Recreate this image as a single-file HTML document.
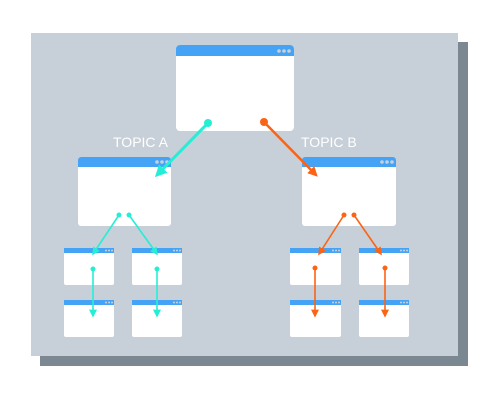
<!DOCTYPE html>
<html><head><style>html,body{margin:0;padding:0;background:#fff;}svg{display:block}</style></head><body>
<svg width="500" height="400" viewBox="0 0 500 400" xmlns="http://www.w3.org/2000/svg">
<defs>
<marker id="ac" markerWidth="4" markerHeight="4" refX="3" refY="2" orient="auto" markerUnits="strokeWidth"><path d="M0,0 L4,2 L0,4 Z" fill="#25eed6"/></marker>
<marker id="ao" markerWidth="4" markerHeight="4" refX="3" refY="2" orient="auto" markerUnits="strokeWidth"><path d="M0,0 L4,2 L0,4 Z" fill="#fb6414"/></marker>
<marker id="acs" markerWidth="5" markerHeight="5" refX="4" refY="2.5" orient="auto" markerUnits="strokeWidth"><path d="M0,0 L5,2.5 L0,5 Z" fill="#25eed6"/></marker>
<marker id="aos" markerWidth="5" markerHeight="5" refX="4" refY="2.5" orient="auto" markerUnits="strokeWidth"><path d="M0,0 L5,2.5 L0,5 Z" fill="#fb6414"/></marker>
<g id="dots3"><circle cx="0" cy="0" r="1.8" fill="#c8d0da"/><circle cx="5" cy="0" r="1.8" fill="#c8d0da"/><circle cx="10" cy="0" r="1.8" fill="#c8d0da"/></g>
<g id="sd"><circle cx="0" cy="0" r="1" fill="#c8d0da"/><circle cx="3" cy="0" r="1" fill="#c8d0da"/><circle cx="6" cy="0" r="1" fill="#c8d0da"/></g>
</defs>
<rect x="40" y="42" width="428" height="324" fill="#7b8791"/>
<rect x="31" y="33" width="427" height="323" fill="#c7cfd8"/>
<rect x="176" y="45" width="118" height="86" rx="4" fill="#fff"/>
<path d="M176,56 V49 a4,4 0 0 1 4,-4 H290 a4,4 0 0 1 4,4 V56 Z" fill="#45a3f5"/>
<use href="#dots3" x="279" y="51"/>
<rect x="78" y="157" width="93" height="69" rx="3" fill="#fff"/>
<path d="M78,167 V160 a3,3 0 0 1 3,-3 H168 a3,3 0 0 1 3,3 V167 Z" fill="#45a3f5"/>
<use href="#dots3" x="157" y="162"/>
<rect x="302" y="157" width="94" height="69" rx="3" fill="#fff"/>
<path d="M302,167 V160 a3,3 0 0 1 3,-3 H393 a3,3 0 0 1 3,3 V167 Z" fill="#45a3f5"/>
<use href="#dots3" x="382" y="162"/>
<g fill="#fff">
<rect x="64" y="248" width="50" height="37" rx="2"/><rect x="132" y="248" width="50" height="37" rx="2"/>
<rect x="64" y="300" width="50" height="37" rx="2"/><rect x="132" y="300" width="50" height="37" rx="2"/>
<rect x="290" y="248" width="51" height="37" rx="2"/><rect x="359" y="248" width="50" height="37" rx="2"/>
<rect x="290" y="300" width="51" height="37" rx="2"/><rect x="359" y="300" width="50" height="37" rx="2"/>
</g>
<g fill="#45a3f5">
<rect x="64" y="248" width="50" height="5"/><rect x="132" y="248" width="50" height="5"/>
<rect x="64" y="300" width="50" height="5"/><rect x="132" y="300" width="50" height="5"/>
<rect x="290" y="248" width="51" height="5"/><rect x="359" y="248" width="50" height="5"/>
<rect x="290" y="300" width="51" height="5"/><rect x="359" y="300" width="50" height="5"/>
</g>
<use href="#sd" x="106" y="250.5"/><use href="#sd" x="174" y="250.5"/>
<use href="#sd" x="106" y="302.5"/><use href="#sd" x="174" y="302.5"/>
<use href="#sd" x="333" y="250.5"/><use href="#sd" x="401" y="250.5"/>
<use href="#sd" x="333" y="302.5"/><use href="#sd" x="401" y="302.5"/>
<text x="113" y="147" font-family="Liberation Sans, sans-serif" font-size="14" fill="#fff">TOPIC A</text>
<text x="301" y="147" font-family="Liberation Sans, sans-serif" font-size="14" fill="#fff">TOPIC B</text>
<g stroke="#25eed6" fill="#25eed6">
<line x1="208" y1="123" x2="157" y2="175" stroke-width="3" marker-end="url(#ac)"/>
<circle cx="208" cy="123" r="4" stroke="none"/>
<line x1="119" y1="215" x2="93" y2="254" stroke-width="1.6" marker-end="url(#acs)"/>
<line x1="129" y1="215" x2="157" y2="254" stroke-width="1.6" marker-end="url(#acs)"/>
<circle cx="119" cy="215" r="2.5" stroke="none"/><circle cx="129" cy="215" r="2.5" stroke="none"/>
<line x1="93" y1="269" x2="93" y2="316" stroke-width="1.6" marker-end="url(#acs)"/>
<line x1="157" y1="269" x2="157" y2="316" stroke-width="1.6" marker-end="url(#acs)"/>
<circle cx="93" cy="269" r="2.5" stroke="none"/><circle cx="157" cy="269" r="2.5" stroke="none"/>
</g>
<g stroke="#fb6414" fill="#fb6414">
<line x1="264" y1="122" x2="316" y2="175" stroke-width="2.5" marker-end="url(#ao)"/>
<circle cx="264" cy="122" r="4" stroke="none"/>
<line x1="344" y1="215" x2="319" y2="254" stroke-width="1.6" marker-end="url(#aos)"/>
<line x1="354" y1="215" x2="381" y2="254" stroke-width="1.6" marker-end="url(#aos)"/>
<circle cx="344" cy="215" r="2.5" stroke="none"/><circle cx="354" cy="215" r="2.5" stroke="none"/>
<line x1="315" y1="268" x2="315" y2="316" stroke-width="1.6" marker-end="url(#aos)"/>
<line x1="385" y1="268" x2="385" y2="316" stroke-width="1.6" marker-end="url(#aos)"/>
<circle cx="315" cy="268" r="2.5" stroke="none"/><circle cx="385" cy="268" r="2.5" stroke="none"/>
</g>
</svg>
</body></html>
